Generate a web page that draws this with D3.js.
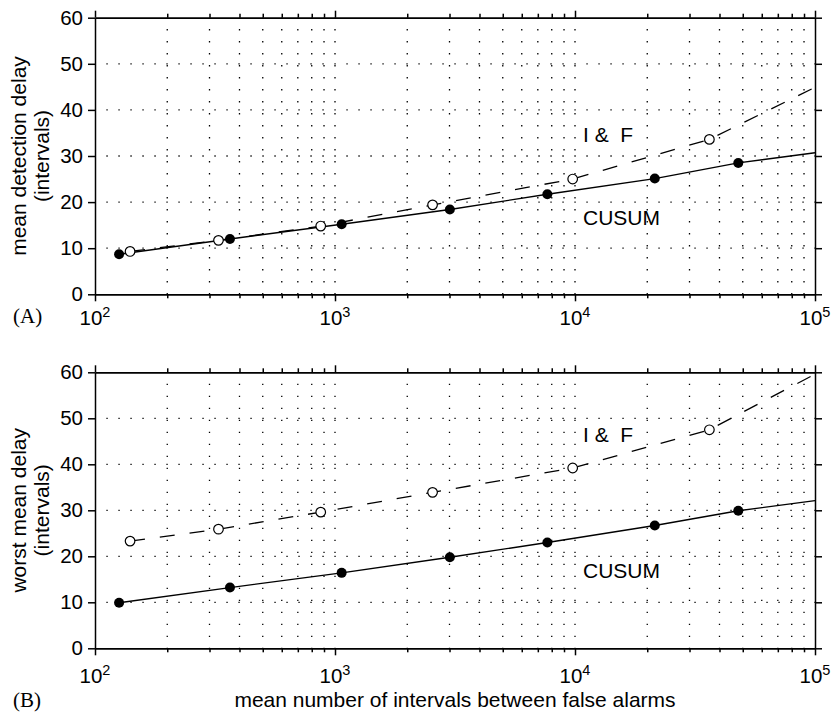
<!DOCTYPE html>
<html>
<head>
<meta charset="utf-8">
<script src="https://cdn.jsdelivr.net/npm/d3@7"></script>
<style>
	body { margin: 0; background: #fff; }
	text { font-family: "Liberation Sans", Arial, Helvetica, sans-serif; fill: #000; }
</style>
</head>
<body>
<div id="chart-area"></div>
<script>
// values
// x positions (mean number of intervals between false alarms)
const xCusum = [126, 365, 1066, 3010, 7670, 21500, 47900];
const xIF = [140, 327, 872, 2550, 9780, 36300];
const xEnd = 1e5;

// (A) mean detection delay
const cusumA = [8.7, 12.0, 15.2, 18.4, 21.7, 25.1, 28.5];
const ifA = [9.3, 11.7, 14.8, 19.4, 25.0, 33.6];
const cusumEndA = 30.7, ifEndA = 44.9;

// (B) worst mean delay
const cusumB = [9.9, 13.2, 16.4, 19.8, 23.0, 26.7, 29.9];
const ifB = [23.3, 25.9, 29.6, 33.9, 39.2, 47.5];
const cusumEndB = 32.1, ifEndB = 59.6;

const yTicks = [0, 10, 20, 30, 40, 50, 60];
const xMajor = [1e2, 1e3, 1e4, 1e5];

const width = 835, height = 713;

const svg = d3.select("#chart-area").append("svg")
	.attr("width", width)
	.attr("height", height);

const x = d3.scaleLog()
	.domain([1e2, 1e5])
	.range([95, 815]);

const xMinor = x.ticks().filter(d => xMajor.indexOf(d) < 0);
const xGrid = x.ticks().filter(d => d > 1e2 && d < 1e5);

const panels = [
	{ top: 17.7, bottom: 294.3, cusum: cusumA, ifv: ifA, cusumEnd: cusumEndA, ifEnd: ifEndA,
	  title: ["mean detection delay", "(intervals)"], tag: "(A)", tagY: 323, xLabY: 325,
	  ifLab: 33.1, cusumLab: 15.1 },
	{ top: 372.3, bottom: 648.3, cusum: cusumB, ifv: ifB, cusumEnd: cusumEndB, ifEnd: ifEndB,
	  title: ["worst mean delay", "(intervals)"], tag: "(B)", tagY: 707, xLabY: 683,
	  ifLab: 44.8, cusumLab: 15.3 }
];

panels.forEach(p => {
	const y = d3.scaleLinear().domain([0, 60]).range([p.bottom, p.top]);
	const g = svg.append("g");

	// dotted grid
	g.selectAll(".vgrid").data(xGrid).join("line")
		.attr("class", "vgrid")
		.attr("x1", d => x(d)).attr("x2", d => x(d))
		.attr("y1", y(60)).attr("y2", y(0))
		.attr("stroke", "#000")
		.attr("stroke-width", 1.3)
		.attr("stroke-dasharray", "1.3 10.7")
		.attr("stroke-dashoffset", 0.6);

	g.selectAll(".hgrid").data(yTicks.filter(d => d > 0 && d < 60)).join("line")
		.attr("class", "hgrid")
		.attr("x1", x(1e2)).attr("x2", x(1e5))
		.attr("y1", d => y(d)).attr("y2", d => y(d))
		.attr("stroke", "#000")
		.attr("stroke-width", 1.3)
		.attr("stroke-dasharray", "1.3 10.7")
		.attr("stroke-dashoffset", 0.6);

	// axes on all four sides
	const axes = [
		[d3.axisBottom(x).tickValues(xMajor).tickSize(7), `translate(0,${p.bottom})`],
		[d3.axisBottom(x).tickValues(xMinor).tickSize(4), `translate(0,${p.bottom})`],
		[d3.axisTop(x).tickValues(xMajor).tickSize(7), `translate(0,${p.top})`],
		[d3.axisTop(x).tickValues(xMinor).tickSize(4), `translate(0,${p.top})`],
		[d3.axisRight(y).tickValues(yTicks).tickSize(7), "translate(815,0)"]
	];
	axes.forEach(a => {
		g.append("g")
			.attr("transform", a[1])
			.call(a[0].tickSizeOuter(0).tickFormat(""))
			.call(s => s.selectAll("line, path").attr("stroke-width", 1.5));
	});

	const yAxis = g.append("g")
		.attr("transform", "translate(95,0)")
		.call(d3.axisLeft(y).tickValues(yTicks).tickSize(7).tickSizeOuter(0).tickPadding(5));
	yAxis.selectAll("line, path").attr("stroke-width", 1.5);
	yAxis.selectAll("text")
		.style("font-size", "20.5px")
		.style("font-family", "'Liberation Sans', Arial, sans-serif");

	// x tick labels 10^n
	const xl = g.selectAll(".xlab").data(xMajor).join("text")
		.attr("class", "xlab")
		.attr("x", d => x(d))
		.attr("y", p.xLabY)
		.attr("text-anchor", "middle")
		.style("font-size", "20.5px");
	xl.append("tspan").text("10");
	xl.append("tspan")
		.attr("dy", -8)
		.style("font-size", "14.5px")
		.text(d => Math.round(Math.log10(d)));

	// series
	const line = d3.line().x(d => x(d[0])).y(d => y(d[1]));
	const ifPts = d3.zip(xIF, p.ifv).concat([[xEnd, p.ifEnd]]);
	const cuPts = d3.zip(xCusum, p.cusum).concat([[xEnd, p.cusumEnd]]);

	g.append("path")
		.datum(ifPts)
		.attr("d", line)
		.attr("fill", "none")
		.attr("stroke", "#000")
		.attr("stroke-width", 1.3)
		.attr("stroke-dasharray", "15 15");

	g.append("path")
		.datum(cuPts)
		.attr("d", line)
		.attr("fill", "none")
		.attr("stroke", "#000")
		.attr("stroke-width", 1.4);

	g.selectAll(".cu").data(d3.zip(xCusum, p.cusum)).join("circle")
		.attr("class", "cu")
		.attr("cx", d => x(d[0]))
		.attr("cy", d => y(d[1]))
		.attr("r", 5)
		.attr("fill", "#000");

	g.selectAll(".iff").data(d3.zip(xIF, p.ifv)).join("circle")
		.attr("class", "iff")
		.attr("cx", d => x(d[0]))
		.attr("cy", d => y(d[1]))
		.attr("r", 4.8)
		.attr("fill", "#fff")
		.attr("stroke", "#000")
		.attr("stroke-width", 1.2);

	// series labels
	g.append("text")
		.attr("x", x(1.08e4))
		.attr("y", y(p.ifLab))
		.style("font-size", "21px")
		.text("I &\u00a0 F");
	g.append("text")
		.attr("x", x(1.08e4))
		.attr("y", y(p.cusumLab))
		.style("font-size", "21px")
		.text("CUSUM");

	// y title, two lines
	const cy = (p.top + p.bottom) / 2;
	p.title.forEach((t, i) => {
		g.append("text")
			.attr("transform", `translate(${26 + i * 23},${cy}) rotate(-90)`)
			.attr("text-anchor", "middle")
			.style("font-size", "21px")
			.text(t);
	});

	// panel tag
	g.append("text")
		.attr("x", 13)
		.attr("y", p.tagY)
		.style("font-family", "'Liberation Serif', 'Times New Roman', serif")
		.style("font-size", "21px")
		.text(p.tag);
});

svg.append("text")
	.attr("x", 455)
	.attr("y", 707)
	.attr("text-anchor", "middle")
	.style("font-size", "21px")
	.text("mean number of intervals between false alarms");
</script>
</body>
</html>
